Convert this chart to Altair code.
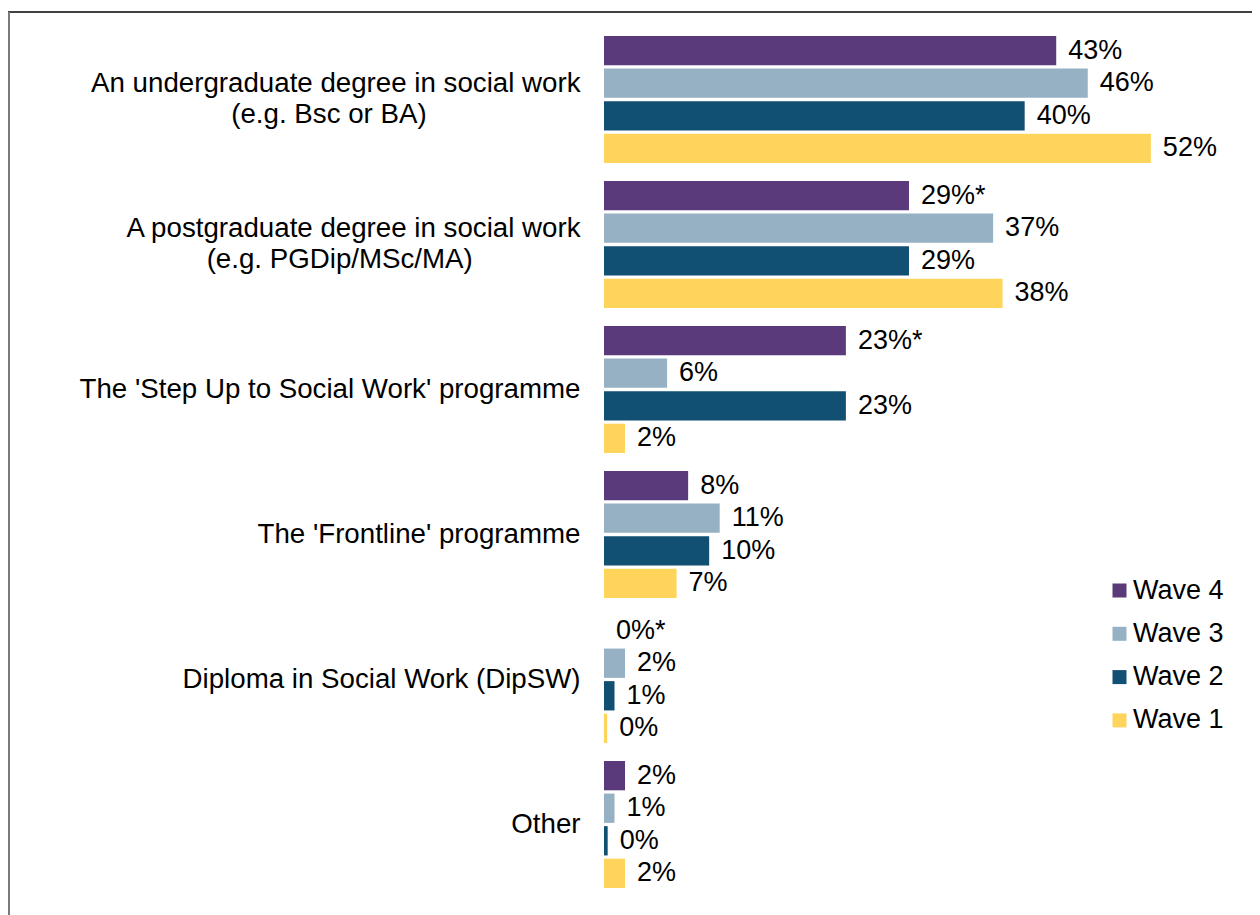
import altair as alt
import pandas as pd

NB = "\u00a0"
END = "\u200b"
categories = [
    "An undergraduate degree in social work|(e.g. Bsc or BA)" + NB * 20 + END,
    "A postgraduate degree in social work|(e.g. PGDip/MSc/MA)" + NB * 14 + END,
    "The 'Step Up to Social Work' programme",
    "The 'Frontline' programme",
    "Diploma in Social Work (DipSW)",
    "Other",
]
waves = ["Wave 4", "Wave 3", "Wave 2", "Wave 1"]
colors = ["#5A3A7A", "#97B1C4", "#114F73", "#FFD45A"]

wave4_values = [43, 29, 23, 8, 0, 2]
wave3_values = [46, 37, 6, 11, 2, 1]
wave2_values = [40, 29, 23, 10, 1, 0.35]
wave1_values = [52, 37.9, 2, 6.9, 0.3, 2]

wave4_labels = ["43%", "29%*", "23%*", "8%", "0%*", "2%"]
wave3_labels = ["46%", "37%", "6%", "11%", "2%", "1%"]
wave2_labels = ["40%", "29%", "23%", "10%", "1%", "0%"]
wave1_labels = ["52%", "38%", "2%", "7%", "0%", "2%"]

rows = []
for wave, vals, labs in [
    ("Wave 4", wave4_values, wave4_labels),
    ("Wave 3", wave3_values, wave3_labels),
    ("Wave 2", wave2_values, wave2_labels),
    ("Wave 1", wave1_values, wave1_labels),
]:
    for c, v, l in zip(categories, vals, labs):
        rows.append({"category": c, "wave": wave, "value": v, "label": l})
df = pd.DataFrame(rows)

FONT = "Liberation Sans"

base = alt.Chart(df).encode(
    y=alt.Y(
        "category:N",
        sort=categories,
        scale=alt.Scale(paddingInner=0.124, paddingOuter=0.062),
        axis=alt.Axis(
            title=None, ticks=False, domain=False, labelFontSize=27.7,
            labelColor="black", labelPadding=24, labelFont=FONT,
            labelExpr="split(datum.label, '|')", labelLineHeight=31,
            labelLimit=0,
            labelOffset={"condition": {"test": "indexof(datum.value, '|') >= 0",
                                       "value": -15.5}, "value": 0},
        ),
    ),
    yOffset=alt.YOffset("wave:N", sort=waves,
                        scale=alt.Scale(paddingInner=0.1, paddingOuter=0)),
    x=alt.X("value:Q", scale=alt.Scale(domain=[0, 60]), axis=None),
)

bars = base.mark_bar().encode(
    color=alt.Color(
        "wave:N",
        scale=alt.Scale(domain=waves, range=colors),
        legend=alt.Legend(
            title=None, orient="none", legendX=502, legendY=550,
            labelFontSize=27, labelFont=FONT, labelColor="black",
            symbolType="square", symbolSize=196, symbolStrokeWidth=0,
            rowPadding=15.3, labelOffset=0, padding=0,
        ),
    )
)

text = base.mark_text(
    align="left", baseline="middle", dx=12, fontSize=27, font=FONT, color="black"
).encode(text="label:N")

frame_df = pd.DataFrame({"k": [0]})
top_line = alt.Chart(frame_df).mark_rule(color="black", strokeWidth=1.3).encode(
    x=alt.value(-596), x2=alt.value(660), y=alt.value(-15)
)
left_line = alt.Chart(frame_df).mark_rule(color="#7a7a7a", strokeWidth=2).encode(
    x=alt.value(-595), y=alt.value(-15), y2=alt.value(900)
)

chart = alt.layer(bars, text, top_line, left_line).properties(
    width=631,
    height=870,
    autosize=alt.AutoSizeParams(type="none"),
    padding={"left": 596, "top": 19, "right": 17, "bottom": 18},
).configure(font=FONT, view=alt.ViewConfig(stroke="transparent"))

chart.save("out.html", embed_options={"renderer": "svg", "actions": False})
